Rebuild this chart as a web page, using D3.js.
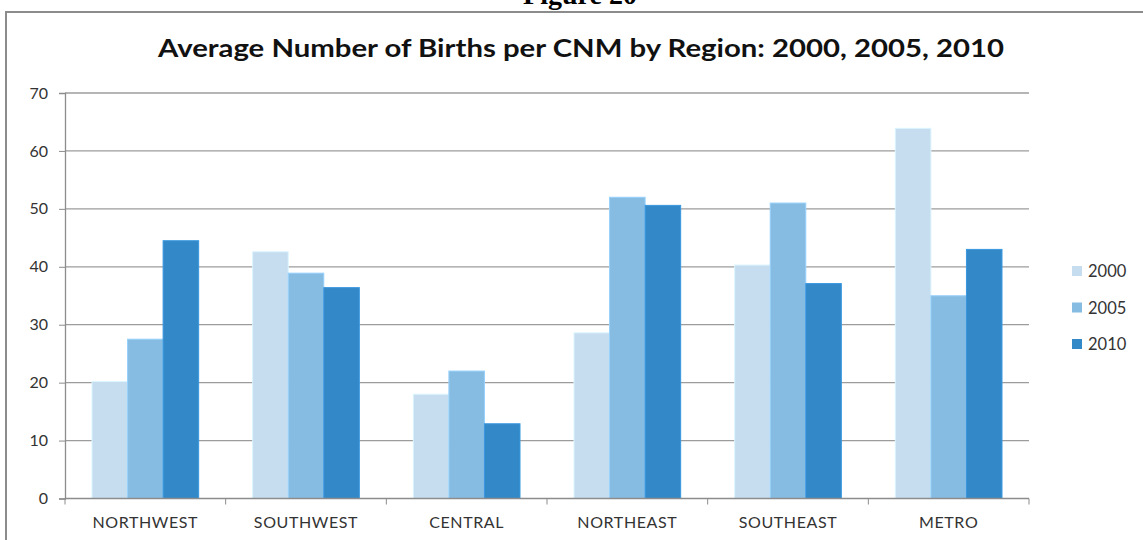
<!DOCTYPE html>
<html>
<head>
<meta charset="utf-8">
<script src="https://cdn.jsdelivr.net/npm/d3@7"></script>
<style>
  body { margin: 0; background: #fff; }
  svg { display: block; }
</style>
</head>
<body>
<div id="vis"></div>
<script>
// data
var regions = ['NORTHWEST', 'SOUTHWEST', 'CENTRAL', 'NORTHEAST', 'SOUTHEAST', 'METRO'];
var years = ['2000', '2005', '2010'];
var births2000 = [20.2, 42.6, 18.0, 28.6, 40.3, 63.9];
var births2005 = [27.5, 38.9, 22.0, 52.0, 51.0, 35.0];
var births2010 = [44.5, 36.4, 12.9, 50.6, 37.1, 43.0];
var yTicks = [0, 10, 20, 30, 40, 50, 60, 70];
var barColors = ['#c6dcef', '#87bce2', '#3388c8'];

var width = 1143;
var height = 540;
var margin = { left: 65, right: 114, top: 93, bottom: 41.5 };
var font = 'Lato, "Open Sans", sans-serif';

var rows = regions.map(function (r, i) {
  return { region: r, values: [births2000[i], births2005[i], births2010[i]] };
});

var svg = d3.select('#vis').append('svg')
  .attr('width', width)
  .attr('height', height);

// page bits: the caption is cut off at the top edge, as in the scan
svg.append('text')
  .attr('x', 580).attr('y', 4)
  .attr('text-anchor', 'middle')
  .attr('font-family', '"Liberation Serif", serif')
  .attr('font-weight', 'bold')
  .attr('font-size', 28)
  .text('Figure 20');

svg.append('rect')
  .attr('x', 6).attr('y', 12)
  .attr('width', 1200).attr('height', 600)
  .attr('fill', 'none')
  .attr('stroke', '#8c8c8c')
  .attr('stroke-width', 2);

svg.append('text')
  .attr('x', 581).attr('y', 57)
  .attr('text-anchor', 'middle')
  .attr('font-family', font)
  .attr('font-weight', 'bold')
  .attr('font-size', 24)
  .attr('fill', '#111')
  .attr('textLength', 846)
  .attr('lengthAdjust', 'spacingAndGlyphs')
  .text('Average Number of Births per CNM by Region: 2000, 2005, 2010');

var plotW = width - margin.left - margin.right;
var plotB = height - margin.bottom;

var x0 = d3.scaleBand().domain(regions).range([margin.left, margin.left + plotW]);
var x1 = d3.scaleBand().domain(years).range([27, x0.bandwidth() - 27]);
var y = d3.scaleLinear().domain([0, 70]).range([plotB, margin.top]);

// gridlines
svg.append('g').selectAll('line')
  .data(yTicks.slice(1))
  .enter().append('line')
  .attr('x1', margin.left).attr('x2', margin.left + plotW)
  .attr('y1', function (d) { return y(d); })
  .attr('y2', function (d) { return y(d); })
  .attr('stroke', '#9c9c9c')
  .attr('stroke-width', 1.3);

// y axis
var yAxis = svg.append('g')
  .attr('transform', 'translate(' + margin.left + ',0)')
  .call(d3.axisLeft(y).tickValues(yTicks).tickSize(6).tickPadding(11));
yAxis.selectAll('text')
  .attr('font-family', font).attr('font-size', 16).attr('fill', '#333');

// bars
var groups = svg.append('g').selectAll('g')
  .data(rows)
  .enter().append('g')
  .attr('transform', function (d) { return 'translate(' + x0(d.region) + ',0)'; });

groups.selectAll('rect')
  .data(function (d) { return d.values.map(function (v, i) { return { year: years[i], value: v, i: i }; }); })
  .enter().append('rect')
  .attr('x', function (d) { return x1(d.year); })
  .attr('width', x1.bandwidth())
  .attr('y', function (d) { return y(d.value); })
  .attr('height', function (d) { return y(0) - y(d.value); })
  .attr('fill', function (d) { return barColors[d.i]; })
  .attr('stroke', function (d) { return d3.rgb(barColors[d.i]).brighter(0.3); })
  .attr('stroke-width', 1);

// x axis with ticks at category boundaries
var xAxis = svg.append('g')
  .attr('transform', 'translate(0,' + plotB + ')');
xAxis.append('line')
  .attr('x1', margin.left).attr('x2', margin.left + plotW)
  .attr('stroke', '#8c8c8c').attr('stroke-width', 1.3);
xAxis.selectAll('.xtick')
  .data(regions.concat(['end']))
  .enter().append('line')
  .attr('class', 'xtick')
  .attr('x1', function (d, i) { return margin.left + i * x0.bandwidth(); })
  .attr('x2', function (d, i) { return margin.left + i * x0.bandwidth(); })
  .attr('y1', 0).attr('y2', 6)
  .attr('stroke', '#8c8c8c');
xAxis.selectAll('.xlabel')
  .data(regions)
  .enter().append('text')
  .attr('class', 'xlabel')
  .attr('x', function (d) { return x0(d) + x0.bandwidth() / 2; })
  .attr('y', 29)
  .attr('text-anchor', 'middle')
  .attr('font-family', font).attr('font-size', 16).attr('fill', '#333')
  .attr('letter-spacing', 0.6)
  .text(function (d) { return d; });

yAxis.select('.domain').attr('stroke', '#8c8c8c').attr('stroke-width', 1.3);
yAxis.selectAll('.tick line').attr('stroke', '#8c8c8c');

// legend
var legend = svg.append('g').selectAll('g')
  .data(years)
  .enter().append('g')
  .attr('transform', function (d, i) { return 'translate(1072,' + (271 + i * 36.5) + ')'; });
legend.append('rect')
  .attr('x', 0).attr('y', -5).attr('width', 10).attr('height', 10)
  .attr('fill', function (d, i) { return barColors[i]; });
legend.append('text')
  .attr('x', 16).attr('y', 6)
  .attr('font-family', font).attr('font-size', 16.5).attr('fill', '#333')
  .text(function (d) { return d; });
</script>
</body>
</html>
